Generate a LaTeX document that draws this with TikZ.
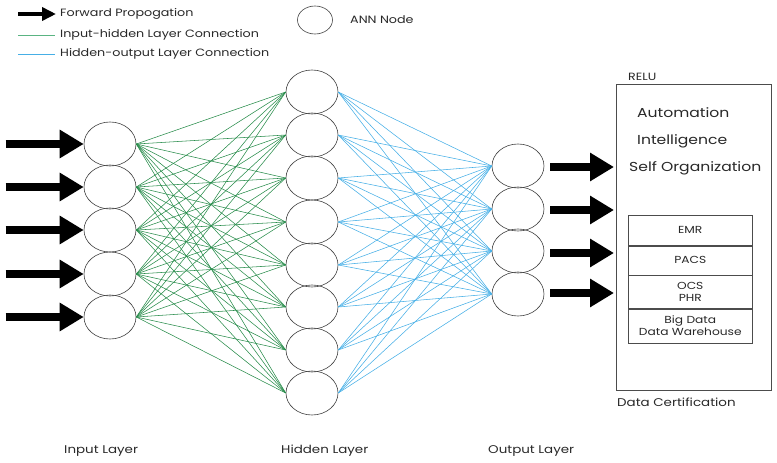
\documentclass[tikz,border=0pt]{standalone}
\usepackage{fontspec}
\setmainfont{Poppins}[FakeStretch=1.2]
\usetikzlibrary{shapes.geometric,arrows.meta,calc}
\definecolor{gconn}{RGB}{40,140,75}
\definecolor{glegend}{RGB}{90,180,130}
\definecolor{bconn}{RGB}{70,175,230}
\definecolor{txt}{RGB}{40,40,40}
\begin{document}
\begin{tikzpicture}[x=1pt,y=-1pt,
  neuron/.style={draw=black!75,line width=0.6pt,ellipse,minimum width=52pt,minimum height=44pt,inner sep=0pt},
  gline/.style={draw=gconn,line width=0.55pt},
  bline/.style={draw=bconn,line width=0.55pt},
  bigarrow/.style={line width=8pt,-{Triangle[length=24pt,width=27pt]}},
  lab/.style={text=txt,font=\fontsize{10.6}{12}\selectfont,inner sep=0pt,anchor=west},
  botlab/.style={text=txt,font=\fontsize{11.2}{13}\selectfont,inner sep=0pt,anchor=west},
  boxtxt/.style={text=txt,font=\fontsize{13}{15}\selectfont,inner sep=0pt,anchor=west},
  cell/.style={draw=black!70,line width=0.6pt,minimum width=124pt,anchor=north west,inner sep=0pt,align=center,text=txt,font=\fontsize{10.2}{12}\selectfont}
]
\useasboundingbox (0,0) rectangle (777,463);
% legend
\coordinate (la1) at (18,14); \coordinate (la2) at (56,14);
\draw[line width=3.5pt,-{Triangle[length=14pt,width=13pt]}] (la1) -- (la2);
\node[lab] (lt1) at (60,14) {Forward Propogation};
\coordinate (lg1) at (18,35); \coordinate (lg2) at (55,35);
\draw[draw=glegend,line width=1pt] (lg1) -- (lg2);
\node[lab] (lt2) at (60,35) {Input-hidden Layer Connection};
\coordinate (lb1) at (18,54); \coordinate (lb2) at (55,54);
\draw[draw=bconn,line width=1pt] (lb1) -- (lb2);
\node[lab] (lt3) at (60,54) {Hidden-output Layer Connection};
\node[draw=black!75,line width=0.6pt,ellipse,minimum width=35pt,minimum height=28pt,inner sep=0pt] (legnode) at (315,20) {};
\node[lab] (lt4) at (350,20) {ANN Node};
% layers
\foreach \i/\y in {1/144,2/187,3/230,4/274,5/317}
  \node[neuron] (i\i) at (110,\y) {};
\foreach \i/\y in {1/92,2/135,3/178,4/222,5/265,6/307,7/350,8/393}
  \node[neuron] (h\i) at (312,\y) {};
\foreach \i/\y in {1/166,2/209,3/251,4/294}
  \node[neuron] (o\i) at (518,\y) {};
% connections
\foreach \i in {1,...,5}
  \foreach \j in {1,...,8}
    \draw[gline] (i\i.east) -- (h\j.west);
\foreach \i in {1,...,8}
  \foreach \j in {1,...,4}
    \draw[bline] (h\i.east) -- (o\j.west);
% input arrows
\foreach \i in {1,...,5}{
  \coordinate (ia\i) at ($(i\i.west)+(-78,0)$);
  \draw[bigarrow] (ia\i) -- (i\i.west);
}
% right box
\node[draw=black!70,line width=0.6pt,minimum width=155pt,minimum height=306pt,anchor=north west,inner sep=0pt] (box) at (616,84) {};
\node[lab,font=\fontsize{10.5}{12}\selectfont] (relu) at (628,77) {RELU};
\node[botlab] (cert) at (617,402) {Data Certification};
\node[boxtxt] (auto) at (637,113) {Automation};
\node[boxtxt] (intel) at (637,141) {Intelligence};
\node[boxtxt] (selfo) at (629,168) {Self Organization};
\node[cell,minimum height=30pt] (c1) at (628,215) {EMR};
\node[cell,minimum height=29pt] (c2) at (c1.south west) {PACS};
\node[cell,minimum height=33pt] (c3) at (c2.south west) {OCS\\PHR};
\node[cell,minimum height=34pt] (c4) at (c3.south west) {Big Data\\Data Warehouse};
% output arrows
\foreach \i/\y in {1/167,2/210,3/253,4/293}{
  \coordinate (os\i) at (550,\y);
  \coordinate (oe\i) at (614,\y);
  \draw[bigarrow] (os\i) -- (oe\i);
}
% bottom labels
\node[botlab] (ll1) at (64,451) {Input Layer};
\node[botlab] (ll2) at (281,451) {Hidden Layer};
\node[botlab] (ll3) at (488,451) {Output Layer};
\end{tikzpicture}
\end{document}
